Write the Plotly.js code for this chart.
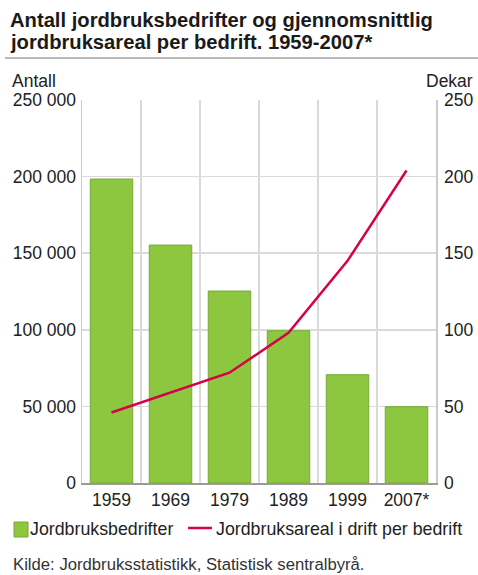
<!DOCTYPE html>
<html>
<head>
<meta charset="utf-8">
<script src="https://cdn.plot.ly/plotly-3.0.1.min.js"></script>
<style>html,body{margin:0;padding:0;background:#fff;}</style>
</head>
<body>
<div id="chart" style="width:478px;height:575px;"></div>
<script>
const years = ["1959", "1969", "1979", "1989", "1999", "2007*"];
const farms = [198400, 155300, 125300, 99400, 70700, 49800];
const areaPerFarm = [46, 59, 72, 98, 145, 204];
const seriesNames = ["Jordbruksbedrifter", "Jordbruksareal i drift per bedrift"];
const titleLines = ["Antall jordbruksbedrifter og gjennomsnittlig", "jordbruksareal per bedrift. 1959-2007*"];
const leftUnit = "Antall";
const rightUnit = "Dekar";
const sourceText = "Kilde: Jordbruksstatistikk, Statistisk sentralbyrå.";

const green = "#8dc63f";
const red = "#d7004b";
const font = "Liberation Sans, Arial, sans-serif";
const fs = 17.5;

const traces = [
  {
    type: "bar", x: years, y: farms, name: seriesNames[0],
    marker: {color: green, line: {color: "#77a935", width: 1}},
    showlegend: false, hoverinfo: "skip"
  },
  {
    type: "scatter", mode: "lines", x: years, y: areaPerFarm, name: seriesNames[1],
    yaxis: "y2", line: {color: red, width: 2.5},
    showlegend: false, hoverinfo: "skip"
  }
];

const W = 478, H = 575;
const m = {l: 82, r: 42, t: 100, b: 92};
const pw = W - m.l - m.r, ph = H - m.t - m.b;
const px = x => (x - m.l) / pw;
const py = y => (H - m.b - y) / ph;

const layout = {
  width: W, height: H,
  margin: m,
  paper_bgcolor: "#fff", plot_bgcolor: "#fff",
  font: {family: font, size: fs, color: "#222"},
  separators: ", ",
  bargap: 0.28,
  xaxis: {
    type: "category", tickson: "boundaries",
    showgrid: true, gridcolor: "#dadada", gridwidth: 1.5,
    showline: true, linecolor: "#9a9a9a", linewidth: 1.5,
    ticks: "", tickfont: {size: fs, color: "#222"}, fixedrange: true
  },
  yaxis: {
    range: [0, 250000], dtick: 50000, tickformat: ",d",
    showgrid: true, gridcolor: "#dadada", gridwidth: 1.5,
    showline: true, linecolor: "#cccccc", linewidth: 1.5,
    zeroline: false, ticks: "", ticklabelstandoff: 1,
    tickfont: {size: fs, color: "#222"}, fixedrange: true
  },
  yaxis2: {
    range: [0, 250], dtick: 50, overlaying: "y", side: "right",
    showgrid: false, showline: true, linecolor: "#cccccc", linewidth: 1.5,
    zeroline: false, ticks: "", ticklabelstandoff: 3,
    tickfont: {size: fs, color: "#222"}, fixedrange: true
  },
  shapes: [
    {type: "line", xref: "paper", yref: "paper", x0: px(5), x1: px(478), y0: py(58), y1: py(58),
     line: {color: "#a0a0a0", width: 1.5}},
    {type: "rect", xref: "paper", yref: "paper", x0: px(14), x1: px(28), y0: py(537), y1: py(522),
     fillcolor: green, line: {color: "#77a935", width: 1}},
    {type: "line", xref: "paper", yref: "paper", x0: px(188), x1: px(212), y0: py(528), y1: py(528),
     line: {color: red, width: 2.5}}
  ],
  annotations: [
    {text: "<b>" + titleLines[0] + "</b>", xref: "paper", yref: "paper", x: px(8), y: py(20), xanchor: "left", yanchor: "middle",
     showarrow: false, font: {size: 20.2, color: "#1a1a1a"}},
    {text: "<b>" + titleLines[1] + "</b>", xref: "paper", yref: "paper", x: px(8), y: py(41.5), xanchor: "left", yanchor: "middle",
     showarrow: false, font: {size: 20.2, color: "#1a1a1a"}},
    {text: leftUnit, xref: "paper", yref: "paper", x: px(10), y: py(81), xanchor: "left", yanchor: "middle",
     showarrow: false, font: {size: fs, color: "#222"}},
    {text: rightUnit, xref: "paper", yref: "paper", x: px(475), y: py(81), xanchor: "right", yanchor: "middle",
     showarrow: false, font: {size: fs, color: "#222"}},
    {text: seriesNames[0], xref: "paper", yref: "paper", x: px(28), y: py(529), xanchor: "left", yanchor: "middle",
     showarrow: false, font: {size: 17.8, color: "#222"}},
    {text: seriesNames[1], xref: "paper", yref: "paper", x: px(214), y: py(529), xanchor: "left", yanchor: "middle",
     showarrow: false, font: {size: 17.8, color: "#222"}},
    {text: sourceText, xref: "paper", yref: "paper", x: px(11), y: py(564), xanchor: "left", yanchor: "middle",
     showarrow: false, font: {size: 16.7, color: "#333"}}
  ]
};

Plotly.newPlot("chart", traces, layout, {displayModeBar: false, staticPlot: true});
</script>
</body>
</html>
